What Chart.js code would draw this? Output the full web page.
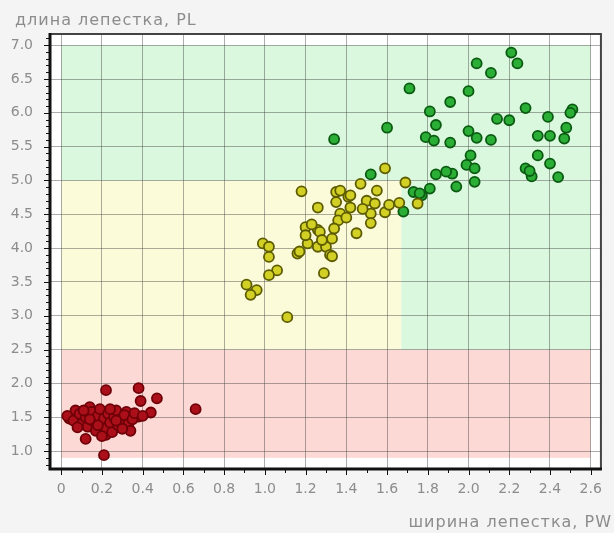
<!DOCTYPE html>
<html>
<head>
<meta charset="utf-8">
<script src="https://cdn.jsdelivr.net/npm/chart.js@4.4.1/dist/chart.umd.min.js"></script>
<style>
  html, body { margin: 0; padding: 0; background: #f4f4f4; }
</style>
</head>
<body>
<canvas id="irisChart" width="614" height="533"></canvas>
<script>
// ось X: ширина лепестка, ось Y: длина лепестка
const xTicks = [0, 0.2, 0.4, 0.6, 0.8, 1.0, 1.2, 1.4, 1.6, 1.8, 2.0, 2.2, 2.4, 2.6];
const yTicks = [1.0, 1.5, 2.0, 2.5, 3.0, 3.5, 4.0, 4.5, 5.0, 5.5, 6.0, 6.5, 7.0];

// зоны классификации
const zoneXFrom = [0, 0, 1.67, 0];
const zoneXTo   = [2.6, 1.67, 2.6, 2.6];
const zoneYFrom = [0.9, 2.5, 2.5, 5.0];
const zoneYTo   = [2.5, 5.0, 5.0, 7.0];
const zoneClass = [0, 1, 2, 2];

const setosaPW = [0.22, 0.38, 0.39, 0.47, 0.66, 0.44, 0.04, 0.07, 0.14, 0.12, 0.21, 0.22, 0.33, 0.32, 0.38,
  0.03, 0.06, 0.09, 0.10, 0.12, 0.13, 0.15, 0.16, 0.17, 0.18, 0.19, 0.20, 0.21, 0.22, 0.23, 0.24, 0.25,
  0.26, 0.27, 0.28, 0.30, 0.31, 0.33, 0.34, 0.35, 0.36, 0.40, 0.18, 0.14, 0.24, 0.20, 0.11, 0.27, 0.08, 0.30];
const setosaPL = [1.90, 1.93, 1.74, 1.78, 1.62, 1.57, 1.48, 1.60, 1.65, 1.18, 0.94, 1.24, 1.34, 1.58, 1.51,
  1.52, 1.45, 1.55, 1.40, 1.50, 1.36, 1.58, 1.44, 1.30, 1.52, 1.62, 1.40, 1.48, 1.34, 1.55, 1.42, 1.28,
  1.50, 1.60, 1.38, 1.46, 1.53, 1.40, 1.30, 1.47, 1.56, 1.52, 1.38, 1.47, 1.62, 1.22, 1.60, 1.45, 1.35, 1.33];

const versicolorPW = [1.18, 1.26, 1.35, 1.37, 1.20, 1.26, 1.21, 1.26, 1.30, 1.33, 1.32, 0.99, 1.02, 1.02, 1.16,
  1.06, 1.02, 1.29, 0.91, 0.96, 0.93, 1.11, 1.59, 1.47, 1.69, 1.75, 1.41, 1.35, 1.42, 1.55, 1.50, 1.54,
  1.52, 1.52, 1.59, 1.61, 1.66, 1.37, 1.36, 1.34, 1.45, 1.20, 1.17, 1.42, 1.27, 1.33, 1.23, 1.28, 1.40, 1.48];
const versicolorPL = [4.84, 4.60, 4.83, 4.85, 4.31, 4.27, 4.07, 4.02, 4.02, 4.14, 3.90, 4.07, 4.02, 3.87, 3.92,
  3.67, 3.60, 3.63, 3.46, 3.38, 3.31, 2.98, 5.18, 4.95, 4.97, 4.66, 4.76, 4.68, 4.60, 4.85, 4.70, 4.66,
  4.51, 4.37, 4.53, 4.64, 4.67, 4.51, 4.41, 4.29, 4.22, 4.19, 3.95, 4.78, 4.24, 3.88, 4.35, 4.12, 4.45, 4.58];

const virginicaPW = [2.21, 2.24, 2.04, 2.11, 2.00, 1.71, 1.91, 1.81, 1.84, 1.60, 1.34, 1.79, 1.83, 1.91, 2.28,
  2.51, 2.50, 2.39, 2.14, 2.20, 2.48, 2.00, 2.04, 2.11, 2.34, 2.40, 2.47, 2.01, 2.34, 1.99, 2.03, 2.40,
  2.28, 2.31, 2.44, 2.03, 1.94, 1.92, 1.89, 1.84, 1.52, 1.73, 1.81, 1.77, 1.68, 1.76, 2.30];
const virginicaPL = [6.89, 6.73, 6.73, 6.59, 6.32, 6.36, 6.16, 6.02, 5.82, 5.78, 5.61, 5.64, 5.59, 5.56, 6.07,
  6.05, 6.00, 5.94, 5.91, 5.89, 5.78, 5.73, 5.63, 5.60, 5.66, 5.66, 5.62, 5.37, 5.37, 5.23, 5.18, 5.25,
  5.18, 5.06, 5.05, 4.98, 4.91, 5.10, 5.13, 5.09, 5.09, 4.83, 4.88, 4.78, 4.54, 4.81, 5.14];

const toPoints = (xs, ys) => xs.map((x, i) => ({ x: x, y: ys[i] }));

const zoneColors = ['#fcd9d4', '#fbfbd9', '#d9f8dd'];
const gridColor = 'rgba(70,70,70,0.45)';
const labelColor = '#8c8c8c';
const fontFamily = '"DejaVu Sans", Verdana, sans-serif';

const zonesPlugin = {
  id: 'zones',
  beforeDraw(chart) {
    const { ctx, chartArea: a, scales: { x, y } } = chart;
    ctx.save();
    ctx.fillStyle = '#ffffff';
    ctx.fillRect(a.left, a.top, a.right - a.left, a.bottom - a.top);
    zoneXFrom.forEach((x0, i) => {
      const px0 = x.getPixelForValue(x0);
      const px1 = x.getPixelForValue(zoneXTo[i]);
      const py0 = y.getPixelForValue(zoneYTo[i]);
      const py1 = y.getPixelForValue(zoneYFrom[i]);
      ctx.fillStyle = zoneColors[zoneClass[i]];
      ctx.fillRect(px0, py0, px1 - px0, py1 - py0);
    });
    ctx.restore();
  },
  afterDatasetsDraw(chart) {
    const { ctx, chartArea: a, scales: { x, y } } = chart;
    ctx.save();
    // рамка сверху и справа
    ctx.strokeStyle = '#444';
    ctx.lineWidth = 2;
    ctx.beginPath();
    ctx.moveTo(a.left, a.top + 1);
    ctx.lineTo(a.right - 1, a.top + 1);
    ctx.lineTo(a.right - 1, a.bottom);
    ctx.stroke();
    // оси
    ctx.strokeStyle = '#111';
    ctx.lineWidth = 3;
    ctx.beginPath();
    ctx.moveTo(a.left, a.top);
    ctx.lineTo(a.left, a.bottom);
    ctx.lineTo(a.right, a.bottom);
    ctx.stroke();
    // мелкие засечки
    ctx.lineWidth = 1;
    for (let v = 8; v <= 71; v++) {
      const py = Math.round(y.getPixelForValue(v / 10)) + 0.5;
      const len = v % 5 === 0 ? 5 : 3;
      ctx.beginPath();
      ctx.moveTo(a.left - 1 - len, py);
      ctx.lineTo(a.left, py);
      ctx.stroke();
    }
    for (let v = 0; v <= 26; v++) {
      const px = Math.round(x.getPixelForValue(v / 10)) + 0.5;
      const len = v % 2 === 0 ? 5 : 3;
      ctx.beginPath();
      ctx.moveTo(px, a.bottom);
      ctx.lineTo(px, a.bottom + 1 + len);
      ctx.stroke();
    }
    ctx.restore();
  },
  afterDraw(chart) {
    const { ctx } = chart;
    ctx.save();
    ctx.fillStyle = labelColor;
    ctx.font = '16px ' + fontFamily;
    ctx.letterSpacing = '1px';
    ctx.textBaseline = 'alphabetic';
    ctx.textAlign = 'left';
    ctx.fillText('длина лепестка, PL', 15, 25);
    ctx.textAlign = 'right';
    ctx.fillText('ширина лепестка, PW', 612, 527);
    ctx.restore();
  }
};

const pointStyle = (fill, border) => ({
  backgroundColor: fill,
  borderColor: border,
  borderWidth: 1.8,
  pointRadius: 5,
  pointHoverRadius: 5
});

new Chart(document.getElementById('irisChart'), {
  type: 'scatter',
  data: {
    datasets: [
      Object.assign({ label: 'setosa', data: toPoints(setosaPW, setosaPL) }, pointStyle('#ab0f19', '#6e0008')),
      Object.assign({ label: 'versicolor', data: toPoints(versicolorPW, versicolorPL) }, pointStyle('#d2d024', '#5e5c00')),
      Object.assign({ label: 'virginica', data: toPoints(virginicaPW, virginicaPL) }, pointStyle('#2aae35', '#0b5a12'))
    ]
  },
  options: {
    responsive: false,
    animation: false,
    layout: { padding: { top: 33, right: 2, left: 0, bottom: 0 } },
    plugins: { legend: { display: false }, tooltip: { enabled: false } },
    scales: {
      x: {
        type: 'linear',
        min: -0.055,
        max: 2.655,
        afterBuildTicks: s => { s.ticks = xTicks.map(v => ({ value: v })); },
        afterFit: s => { s.height = 64; },
        grid: { color: gridColor, drawTicks: false },
        border: { display: false },
        ticks: {
          color: labelColor,
          font: { size: 14, family: fontFamily },
          padding: 12,
          maxRotation: 0,
          autoSkip: false,
          callback: v => v === 0 ? '0' : v.toFixed(1)
        }
      },
      y: {
        type: 'linear',
        min: 0.735,
        max: 7.18,
        afterBuildTicks: s => { s.ticks = yTicks.map(v => ({ value: v })); },
        afterFit: s => { s.width = 50; },
        grid: { color: gridColor, drawTicks: false },
        border: { display: false },
        ticks: {
          color: labelColor,
          font: { size: 14, family: fontFamily },
          padding: 17,
          autoSkip: false,
          callback: v => v.toFixed(1)
        }
      }
    }
  },
  plugins: [zonesPlugin]
});
</script>
</body>
</html>
